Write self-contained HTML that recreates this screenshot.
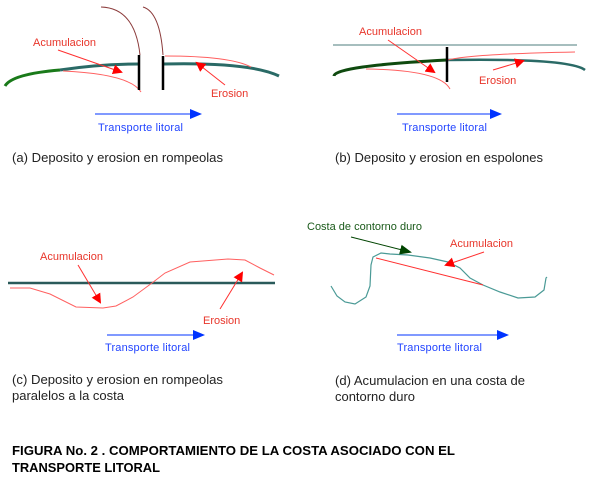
<!DOCTYPE html>
<html><head><meta charset="utf-8"><style>
html,body{margin:0;padding:0;background:#fff;}
svg{display:block;font-family:"Liberation Sans",Arial,sans-serif;}
</style></head><body>
<svg width="600" height="500" viewBox="0 0 600 500" xmlns="http://www.w3.org/2000/svg">
<defs>
<marker id="ar" markerWidth="10" markerHeight="10" refX="8" refY="5" orient="auto" markerUnits="userSpaceOnUse"><path d="M0,0 L10,5 L0,10 z" fill="#ff0000"/></marker>
<marker id="ab" markerWidth="12" markerHeight="10" refX="10" refY="5" orient="auto" markerUnits="userSpaceOnUse"><path d="M0,0 L12,5 L0,10 z" fill="#0033ff"/></marker>
<marker id="ag" markerWidth="12" markerHeight="10" refX="10" refY="5" orient="auto" markerUnits="userSpaceOnUse"><path d="M0,0 L12,5 L0,10 z" fill="#004400"/></marker>
</defs>

<!-- Panel a -->
<path d="M5,86 Q12,74 60,70" stroke="#1a7a1a" stroke-width="3" fill="none"/>
<path d="M60,70 Q100,64 139,64" stroke="#2a6a66" stroke-width="3" fill="none"/>
<path d="M163,64 Q250,62 279,76" stroke="#2a6a66" stroke-width="3" fill="none"/>
<path d="M101,7 Q135,8 140,55" stroke="#8b3a3a" stroke-width="1" fill="none"/>
<path d="M143,7 Q160,12 163,55" stroke="#8b3a3a" stroke-width="1" fill="none"/>
<path d="M63,71 Q130,74 141,92" stroke="#ff6060" stroke-width="1" fill="none"/>
<path d="M165,56 Q230,56 251,67" stroke="#ff6060" stroke-width="1" fill="none"/>
<line x1="139" y1="55" x2="139" y2="90" stroke="#000" stroke-width="2.5"/>
<line x1="163" y1="56" x2="163" y2="90" stroke="#000" stroke-width="2.5"/>
<text x="33" y="46" font-size="11" fill="#e8352a">Acumulacion</text>
<line x1="58" y1="50" x2="121" y2="72" stroke="#ff3030" stroke-width="1" marker-end="url(#ar)"/>
<text x="211" y="97" font-size="11" fill="#e8352a">Erosion</text>
<line x1="225" y1="85" x2="197" y2="63" stroke="#ff3030" stroke-width="1" marker-end="url(#ar)"/>
<line x1="95" y1="114" x2="200" y2="114" stroke="#0033ff" stroke-width="1" marker-end="url(#ab)"/>
<text x="98" y="131" font-size="11" fill="#2244ff" textLength="85">Transporte litoral</text>
<text x="12" y="162" font-size="13" fill="#222" textLength="211" lengthAdjust="spacingAndGlyphs">(a) Deposito y erosion en rompeolas</text>

<!-- Panel b -->
<line x1="333" y1="45" x2="577" y2="45" stroke="#88a8a8" stroke-width="1.5"/>
<path d="M334,76 Q335,66 447,60" stroke="#0f4a0f" stroke-width="3" fill="none"/>
<path d="M447,60 Q570,58 585,70" stroke="#2a6a66" stroke-width="2.5" fill="none"/>
<path d="M366,69 Q440,70 450,89" stroke="#ff6060" stroke-width="1" fill="none"/>
<path d="M448,60 Q470,54 575,52" stroke="#ff6060" stroke-width="1" fill="none"/>
<line x1="447" y1="47" x2="447" y2="82" stroke="#000" stroke-width="2.5"/>
<text x="359" y="35" font-size="11" fill="#e8352a">Acumulacion</text>
<line x1="388" y1="40" x2="434" y2="72" stroke="#ff3030" stroke-width="1" marker-end="url(#ar)"/>
<text x="479" y="84" font-size="11" fill="#e8352a">Erosion</text>
<line x1="493" y1="70" x2="523" y2="61" stroke="#ff3030" stroke-width="1" marker-end="url(#ar)"/>
<line x1="397" y1="114" x2="500" y2="114" stroke="#0033ff" stroke-width="1" marker-end="url(#ab)"/>
<text x="402" y="131" font-size="11" fill="#2244ff" textLength="85">Transporte litoral</text>
<text x="335" y="162" font-size="13" fill="#222" textLength="208" lengthAdjust="spacingAndGlyphs">(b) Deposito y erosion en espolones</text>

<!-- Panel c -->
<line x1="8" y1="283" x2="275" y2="283" stroke="#2a5a5a" stroke-width="2.5"/>
<polyline points="10,288 30,288 50,294 76,307 103,308 116,306 133,297 152,283 165,273 190,262 228,259 245,260 260,268 274,275" stroke="#ff6060" stroke-width="1" fill="none"/>
<text x="40" y="260" font-size="11" fill="#e8352a">Acumulacion</text>
<line x1="78" y1="265" x2="100" y2="302" stroke="#ff3030" stroke-width="1" marker-end="url(#ar)"/>
<text x="203" y="324" font-size="11" fill="#e8352a">Erosion</text>
<line x1="220" y1="309" x2="242" y2="273" stroke="#ff3030" stroke-width="1" marker-end="url(#ar)"/>
<line x1="107" y1="335" x2="203" y2="335" stroke="#0033ff" stroke-width="1" marker-end="url(#ab)"/>
<text x="105" y="351" font-size="11" fill="#2244ff" textLength="85">Transporte litoral</text>
<text x="12" y="384" font-size="13" fill="#222" textLength="211" lengthAdjust="spacingAndGlyphs">(c) Deposito y erosion en rompeolas</text>
<text x="12" y="400" font-size="13" fill="#222" textLength="112" lengthAdjust="spacingAndGlyphs">paralelos a la costa</text>

<!-- Panel d -->
<polyline points="331,286 337,296 345,302 355,304 366,297 370,286 371,265 373,257 381,253 390,254 408,255 430,258 448,262 460,268 470,278 483,285 500,292 518,298 535,297 544,290 546,278 547,277" stroke="#4a9a96" stroke-width="1.2" fill="none"/>
<line x1="376" y1="258" x2="483" y2="285" stroke="#ff3030" stroke-width="1"/>
<text x="307" y="230" font-size="11" fill="#1a5a1a">Costa de contorno duro</text>
<line x1="351" y1="237" x2="410" y2="252" stroke="#004400" stroke-width="1" marker-end="url(#ag)"/>
<text x="450" y="247" font-size="11" fill="#e8352a">Acumulacion</text>
<line x1="484" y1="252" x2="446" y2="265" stroke="#ff3030" stroke-width="1" marker-end="url(#ar)"/>
<line x1="397" y1="335" x2="507" y2="335" stroke="#0033ff" stroke-width="1" marker-end="url(#ab)"/>
<text x="397" y="351" font-size="11" fill="#2244ff" textLength="85">Transporte litoral</text>
<text x="335" y="385" font-size="13" fill="#222" textLength="190" lengthAdjust="spacingAndGlyphs">(d) Acumulacion en una costa de</text>
<text x="335" y="401" font-size="13" fill="#222" textLength="80" lengthAdjust="spacingAndGlyphs">contorno duro</text>

<!-- Footer -->
<text x="12" y="455" font-size="13" font-weight="bold" fill="#000" textLength="443" lengthAdjust="spacingAndGlyphs">FIGURA No. 2 . COMPORTAMIENTO DE LA COSTA  ASOCIADO CON EL</text>
<text x="12" y="472" font-size="13" font-weight="bold" fill="#000" textLength="148" lengthAdjust="spacingAndGlyphs">TRANSPORTE LITORAL</text>
</svg>
</body></html>
